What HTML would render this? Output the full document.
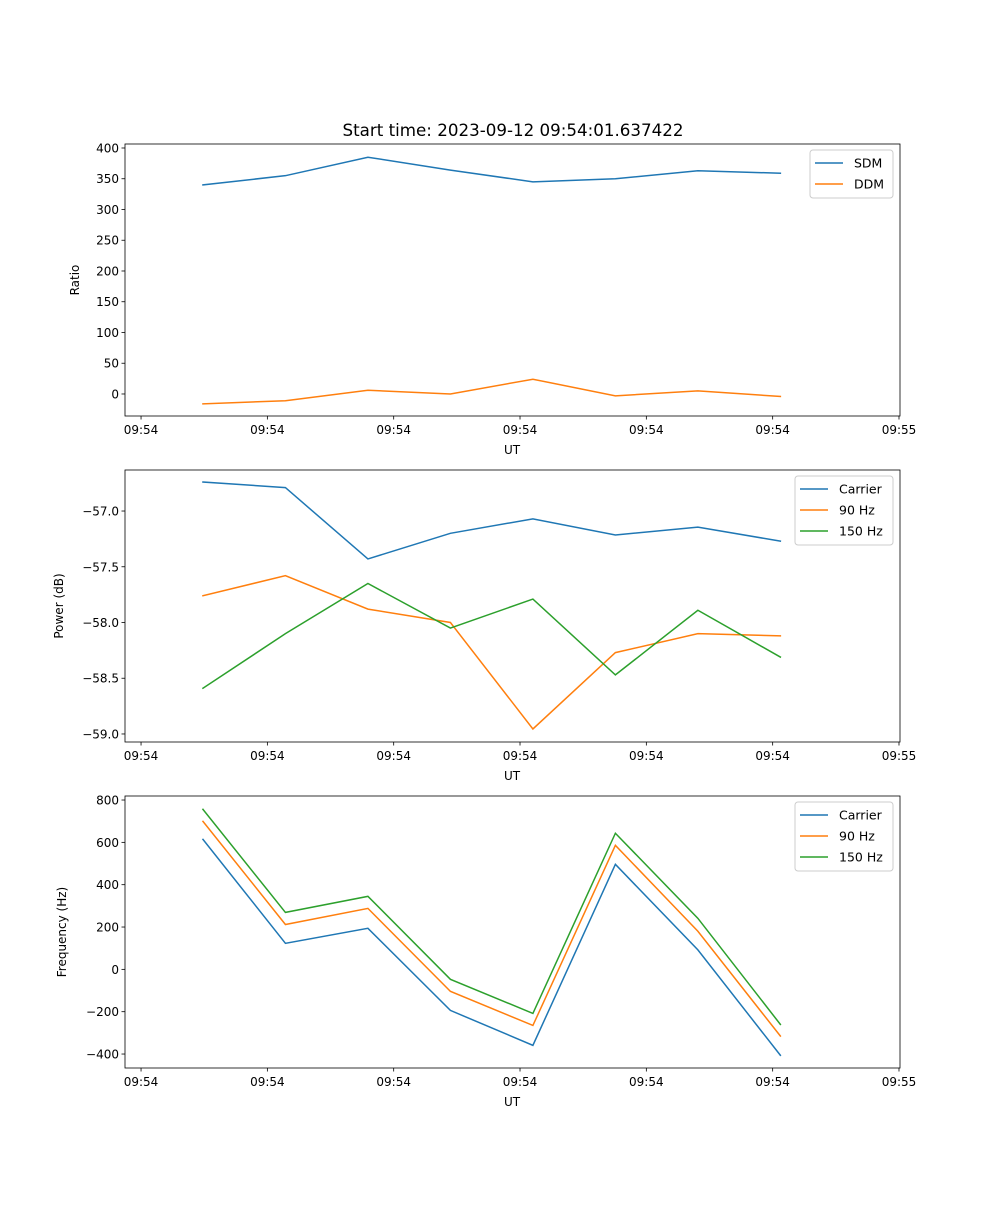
<!DOCTYPE html>
<html><head><meta charset="utf-8"><style>
body{margin:0;background:#fff}
svg text{font-family:"DejaVu Sans","Liberation Sans",sans-serif;fill:#000}
</style></head><body>
<svg id="c" width="1000" height="1200" xmlns="http://www.w3.org/2000/svg">
<text x="513" y="136" text-anchor="middle" font-size="16.7">Start time: 2023-09-12 09:54:01.637422</text>
</svg>
<script>
const times = [4.9, 11.43, 17.96, 24.49, 31.02, 37.55, 44.08, 50.61];
const xTickValues = [0, 10, 20, 30, 40, 50, 60];
const xTickLabels = ["09:54","09:54","09:54","09:54","09:54","09:54","09:55"];
const sdm = [340, 355, 385, 364, 345, 350, 363, 359];
const ddm = [-16, -11, 6, 0, 24, -3, 5, -4];
const powCarrier = [-56.74, -56.79, -57.43, -57.20, -57.07, -57.215, -57.145, -57.27];
const pow90 = [-57.76, -57.58, -57.88, -58.0, -58.955, -58.27, -58.10, -58.12];
const pow150 = [-58.59, -58.10, -57.65, -58.05, -57.79, -58.47, -57.89, -58.31];
const freqCarrier = [614, 123, 194, -194, -359, 496, 92, -406];
const freq90 = [699, 212, 288, -104, -265, 586, 180, -315];
const freq150 = [756, 269, 345, -47, -208, 643, 241, -260];
const ticks1 = [0,50,100,150,200,250,300,350,400];
const ticks2 = [-59.0,-58.5,-58.0,-57.5,-57.0];
const ticks3 = [-400,-200,0,200,400,600,800];

const NS="http://www.w3.org/2000/svg", svg=document.getElementById('c');
function mk(t,a,txt){const e=document.createElementNS(NS,t);for(const k in a)e.setAttribute(k,a[k]);if(txt!==undefined)e.textContent=txt;svg.appendChild(e);return e;}
const L=125,R=900,xMin=-1.27,xMax=60.08;
const xs=v=>L+(v-xMin)/(xMax-xMin)*(R-L);
const C={b:'#1f77b4',o:'#ff7f0e',g:'#2ca02c'};

function panel(name,top,bot,yMin,yMax,yTicks,yFmt,ylabel,ylx,series,leg){
  const ys=v=>bot-(v-yMin)/(yMax-yMin)*(bot-top);
  series.forEach(s=>{
    const d=s.vals.map((v,i)=>(i?'L':'M')+xs(times[i]).toFixed(2)+' '+ys(v).toFixed(2)).join(' ');
    const p=mk('path',{d:d,fill:'none',stroke:s.c,'stroke-width':1.5,'stroke-linecap':'square'});
    
    
  });
  const f=mk('rect',{x:L,y:top,width:R-L,height:bot-top,fill:'none',stroke:'#000','stroke-width':0.8});
  
  xTickValues.forEach((v,i)=>{
    const x=xs(v);
    mk('line',{x1:x,x2:x,y1:bot,y2:bot+3.5,stroke:'#000','stroke-width':0.8});
    const t=mk('text',{x:x,y:bot+18,'text-anchor':'middle','font-size':12},xTickLabels[i]);
    
  });
  yTicks.forEach(v=>{
    const y=ys(v);
    mk('line',{x1:L-3.5,x2:L,y1:y,y2:y,stroke:'#000','stroke-width':0.8});
    const t=mk('text',{x:L-6,y:y+4.5,'text-anchor':'end','font-size':12},yFmt(v));
    
  });
  const xt=mk('text',{x:512,y:bot+38,'text-anchor':'middle','font-size':12},'UT');
  
  const cy=(top+bot)/2;
  const yt=mk('text',{x:ylx,y:cy,'text-anchor':'middle','font-size':12,transform:`rotate(-90 ${ylx} ${cy})`},ylabel);
  
  const lb=mk('rect',{x:leg.x,y:top+6,width:R-7-leg.x,height:series.length*21+6,rx:3,fill:'#fff','fill-opacity':0.8,stroke:'#ccc','stroke-width':1});
  
  series.forEach((s,i)=>{
    const y=top+19+i*21;
    mk('line',{x1:leg.x+5,x2:leg.x+33,y1:y,y2:y,stroke:s.c,'stroke-width':1.5});
    const t=mk('text',{x:leg.x+44,y:y+4.5,'font-size':12.5},s.label);
    
  });
}
panel('ratio-panel',144,416,-35.8,406.5,ticks1,v=>String(v),'Ratio',79,
  [{vals:sdm,c:C.b,label:'SDM',key:'sdm'},{vals:ddm,c:C.o,label:'DDM',key:'ddm'}],{x:810});
panel('power-panel',470,742,-59.072,-56.632,ticks2,v=>'\u2212'+Math.abs(v).toFixed(1),'Power (dB)',63,
  [{vals:powCarrier,c:C.b,label:'Carrier',key:'carrier'},{vals:pow90,c:C.o,label:'90 Hz',key:'90hz'},{vals:pow150,c:C.g,label:'150 Hz',key:'150hz'}],{x:795});
panel('frequency-panel',796,1068,-466,819,ticks3,v=>(v<0?'\u2212':'')+Math.abs(v),'Frequency (Hz)',66,
  [{vals:freqCarrier,c:C.b,label:'Carrier',key:'carrier'},{vals:freq90,c:C.o,label:'90 Hz',key:'90hz'},{vals:freq150,c:C.g,label:'150 Hz',key:'150hz'}],{x:795});
</script>
</body></html>
